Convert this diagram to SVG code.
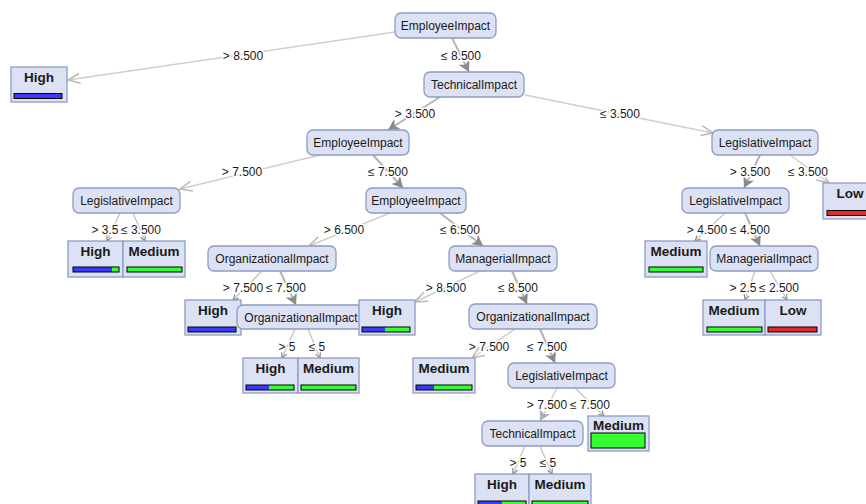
<svg xmlns="http://www.w3.org/2000/svg" width="866" height="504" viewBox="0 0 866 504">
<style>
.n rect{fill:#dce2f3;stroke:#8d9cc2;stroke-width:1.3}
.n text{font-family:"Liberation Sans",Arial,sans-serif;font-size:12px;fill:#1a1a1a;text-anchor:middle}
.l rect.b{fill:#dce2f3;stroke:#8d9cc2;stroke-width:1.3}
.l text{font-family:"Liberation Sans",Arial,sans-serif;font-size:13.5px;font-weight:bold;fill:#1a1a1a;text-anchor:middle}
.bar{stroke:#000;stroke-width:1}
.bl{fill:#3a3aff}.gr{fill:#33ff33}.rd{fill:#e8252b}
#edges line{stroke:#cfcfcf;stroke-width:1.5}
#edges line.h{stroke:#b4b4b4;stroke-width:2}
#edges line.s{stroke:#c4c4c4;stroke-width:1.3}
#edges text{font-family:"Liberation Sans",Arial,sans-serif;font-size:12px;fill:#1a1a1a;text-anchor:middle;stroke:#fff;stroke-width:3;paint-order:stroke;stroke-linejoin:round}
</style>
<defs>
<marker id="op" viewBox="0 0 14 12" refX="13" refY="6" markerWidth="14" markerHeight="12" markerUnits="userSpaceOnUse" orient="auto">
<path d="M1,1 L13,6 L1,11" fill="none" stroke="#b8b8b8" stroke-width="1.5"/>
</marker>
<marker id="fi" viewBox="0 0 12 12" refX="11" refY="6" markerWidth="12" markerHeight="12" markerUnits="userSpaceOnUse" orient="auto">
<path d="M0,0 L11,6 L0,12 L3,6 Z" fill="#8a8a8a"/>
</marker>
<marker id="lf" viewBox="0 0 12 12" refX="11" refY="6" markerWidth="12" markerHeight="12" markerUnits="userSpaceOnUse" orient="auto">
<path d="M0,0 L11,6 L0,12 L3,6 Z" fill="#b0b0b0"/>
</marker>
<marker id="sm" viewBox="0 0 8 8" refX="7" refY="4" markerWidth="7" markerHeight="7" markerUnits="userSpaceOnUse" orient="auto">
<path d="M1,1 L7,4 L1,7" fill="none" stroke="#8a8a8a" stroke-width="1.3"/>
</marker>
</defs>
<rect width="866" height="504" fill="#fff"/>
<g id="edges">
<line x1="395" y1="32" x2="68" y2="80" marker-end="url(#op)"/>
<line class="h" x1="452" y1="38" x2="469" y2="72" marker-end="url(#fi)"/>
<line class="h" x1="440" y1="97" x2="388" y2="130" marker-end="url(#fi)"/>
<line x1="525" y1="95" x2="713" y2="133" marker-end="url(#op)"/>
<line x1="320" y1="155" x2="180" y2="189" marker-end="url(#op)"/>
<line class="h" x1="373" y1="155" x2="403" y2="188" marker-end="url(#fi)"/>
<line class="h" x1="760" y1="155" x2="744" y2="188" marker-end="url(#fi)"/>
<line x1="790" y1="155" x2="829" y2="183" marker-end="url(#op)"/>
<line class="s" x1="120" y1="213" x2="107" y2="241" marker-end="url(#sm)"/>
<line class="s" x1="133" y1="213" x2="145" y2="241" marker-end="url(#sm)"/>
<line x1="390" y1="213" x2="309" y2="246" marker-end="url(#op)"/>
<line class="h" x1="440" y1="213" x2="483" y2="246" marker-end="url(#fi)"/>
<line class="s" x1="725" y1="213" x2="695" y2="241" marker-end="url(#sm)"/>
<line class="h" x1="745" y1="213" x2="760" y2="246" marker-end="url(#fi)"/>
<line class="s" x1="262" y1="271" x2="233" y2="300" marker-end="url(#sm)"/>
<line class="h" x1="280" y1="271" x2="296" y2="305" marker-end="url(#fi)"/>
<line x1="480" y1="271" x2="415" y2="302" marker-end="url(#op)"/>
<line class="h" x1="512" y1="271" x2="527" y2="304" marker-end="url(#fi)"/>
<line class="s" x1="755" y1="271" x2="745" y2="300" marker-end="url(#sm)"/>
<line class="s" x1="770" y1="271" x2="787" y2="300" marker-end="url(#sm)"/>
<line class="s" x1="295" y1="329" x2="282" y2="358" marker-end="url(#sm)"/>
<line class="s" x1="308" y1="329" x2="320" y2="358" marker-end="url(#sm)"/>
<line x1="515" y1="329" x2="472" y2="358" marker-end="url(#op)"/>
<line class="h" x1="540" y1="329" x2="555" y2="363" marker-end="url(#fi)"/>
<line x1="557" y1="388" x2="540" y2="421" marker-end="url(#lf)"/>
<line class="s" x1="575" y1="388" x2="604" y2="416" marker-end="url(#sm)"/>
<line class="s" x1="525" y1="446" x2="513" y2="474" marker-end="url(#sm)"/>
<line class="s" x1="540" y1="446" x2="552" y2="474" marker-end="url(#sm)"/>
<text x="243" y="60">&gt; 8.500</text>
<text x="461" y="60">≤ 8.500</text>
<text x="415" y="118">&gt; 3.500</text>
<text x="620" y="118">≤ 3.500</text>
<text x="242" y="176">&gt; 7.500</text>
<text x="388" y="176">≤ 7.500</text>
<text x="750" y="176">&gt; 3.500</text>
<text x="808" y="176">≤ 3.500</text>
<text x="105" y="234">&gt; 3.5</text>
<text x="141" y="234">≤ 3.500</text>
<text x="344" y="234">&gt; 6.500</text>
<text x="460" y="234">≤ 6.500</text>
<text x="707" y="234">&gt; 4.500</text>
<text x="750" y="234">≤ 4.500</text>
<text x="243" y="292">&gt; 7.500</text>
<text x="286" y="292">≤ 7.500</text>
<text x="446" y="292">&gt; 8.500</text>
<text x="518" y="292">≤ 8.500</text>
<text x="743" y="292">&gt; 2.5</text>
<text x="779" y="292">≤ 2.500</text>
<text x="287" y="351">&gt; 5</text>
<text x="317" y="351">≤ 5</text>
<text x="489" y="351">&gt; 7.500</text>
<text x="547" y="351">≤ 7.500</text>
<text x="547" y="409">&gt; 7.500</text>
<text x="590" y="409">≤ 7.500</text>
<text x="518" y="467">&gt; 5</text>
<text x="548" y="467">≤ 5</text>
</g>
<g id="n-root" class="n"><rect x="395" y="13" width="101" height="25" rx="6"/><text x="445.5" y="30">EmployeeImpact</text></g>
<g id="n-tech1" class="n"><rect x="424" y="72" width="100" height="25" rx="6"/><text x="474" y="89">TechnicalImpact</text></g>
<g id="n-emp2" class="n"><rect x="307" y="130" width="102" height="25" rx="6"/><text x="358" y="147">EmployeeImpact</text></g>
<g id="n-leg2" class="n"><rect x="712" y="130" width="106" height="25" rx="6"/><text x="765" y="147">LegislativeImpact</text></g>
<g id="n-leg3a" class="n"><rect x="73" y="188" width="107" height="25" rx="6"/><text x="126.5" y="205">LegislativeImpact</text></g>
<g id="n-emp3" class="n"><rect x="366" y="188" width="100" height="25" rx="6"/><text x="416" y="205">EmployeeImpact</text></g>
<g id="n-leg3b" class="n"><rect x="682" y="188" width="107" height="25" rx="6"/><text x="735.5" y="205">LegislativeImpact</text></g>
<g id="n-org4" class="n"><rect x="208" y="246" width="128" height="25" rx="6"/><text x="272" y="263">OrganizationalImpact</text></g>
<g id="n-man4" class="n"><rect x="449" y="246" width="108" height="25" rx="6"/><text x="503" y="263">ManagerialImpact</text></g>
<g id="n-man4b" class="n"><rect x="710" y="246" width="108" height="25" rx="6"/><text x="764" y="263">ManagerialImpact</text></g>
<g id="n-org5b" class="n"><rect x="469" y="304" width="128" height="25" rx="6"/><text x="533" y="321">OrganizationalImpact</text></g>
<g id="n-leg6" class="n"><rect x="508" y="363" width="107" height="25" rx="6"/><text x="561.5" y="380">LegislativeImpact</text></g>
<g id="n-tech7" class="n"><rect x="482" y="421" width="101" height="25" rx="6"/><text x="532.5" y="438">TechnicalImpact</text></g>

<g id="l-high1" class="l"><rect class="b" x="11" y="67" width="56" height="35"/><text x="39" y="82">High</text><rect class="bar bl" x="14" y="93.5" width="48" height="5"/></g>
<g id="l-low1" class="l"><rect class="b" x="823" y="183" width="60" height="36"/><text x="850" y="198">Low</text><rect class="bar rd" x="827" y="210.5" width="52" height="5"/></g>
<g id="l-high2" class="l"><rect class="b" x="68" y="241" width="55" height="36"/><text x="95.5" y="256">High</text><rect class="bl" x="73" y="267" width="39" height="5"/><rect class="gr" x="112" y="267" width="7" height="5"/><rect class="bar" fill="none" x="73" y="267" width="46" height="5"/></g>
<g id="l-med2" class="l"><rect class="b" x="123" y="241" width="62" height="36"/><text x="154" y="256">Medium</text><rect class="bar gr" x="127" y="267" width="55" height="5"/></g>
<g id="l-med3" class="l"><rect class="b" x="645" y="241" width="62" height="36"/><text x="676" y="256">Medium</text><rect class="bar gr" x="649" y="267" width="54" height="5"/></g>
<g id="l-high3" class="l"><rect class="b" x="185" y="300" width="56" height="35"/><text x="213" y="315">High</text><rect class="bar bl" x="188" y="327" width="48" height="5"/></g>
<g id="n-org5a" class="n"><rect x="237" y="305" width="128" height="24" rx="6"/><text x="301" y="321.5">OrganizationalImpact</text></g>
<g id="l-high4" class="l"><rect class="b" x="359" y="300" width="56" height="35"/><text x="387" y="315">High</text><rect class="bl" x="362" y="327" width="23" height="5"/><rect class="gr" x="385" y="327" width="25" height="5"/><rect class="bar" fill="none" x="362" y="327" width="48" height="5"/></g>
<g id="l-med4" class="l"><rect class="b" x="703" y="300" width="62" height="35"/><text x="734" y="315">Medium</text><rect class="bar gr" x="707" y="327" width="55" height="5"/></g>
<g id="l-low4" class="l"><rect class="b" x="765" y="300" width="56" height="35"/><text x="793" y="315">Low</text><rect class="bar rd" x="768" y="327" width="49" height="5"/></g>
<g id="l-high5" class="l"><rect class="b" x="243" y="358" width="55" height="35"/><text x="270.5" y="373">High</text><rect class="bl" x="246" y="385" width="23" height="5"/><rect class="gr" x="269" y="385" width="25" height="5"/><rect class="bar" fill="none" x="246" y="385" width="48" height="5"/></g>
<g id="l-med5" class="l"><rect class="b" x="298" y="358" width="61" height="35"/><text x="328.5" y="373">Medium</text><rect class="bar gr" x="301" y="385" width="55" height="5"/></g>
<g id="l-med5b" class="l"><rect class="b" x="413" y="358" width="62" height="35"/><text x="444" y="373">Medium</text><rect class="bl" x="416" y="385" width="18" height="5"/><rect class="gr" x="434" y="385" width="38" height="5"/><rect class="bar" fill="none" x="416" y="385" width="56" height="5"/></g>
<g id="l-med6" class="l"><rect class="b" x="588" y="416" width="61" height="35"/><text x="618.5" y="430">Medium</text><rect class="bar gr" x="591" y="433" width="54" height="15"/></g>
<g id="l-high7" class="l"><rect class="b" x="475" y="474" width="54" height="36"/><text x="502" y="489">High</text><rect class="bl" x="478" y="501" width="24" height="5"/><rect class="gr" x="502" y="501" width="24" height="5"/><rect class="bar" fill="none" x="478" y="501" width="48" height="5"/></g>
<g id="l-med7" class="l"><rect class="b" x="529" y="474" width="62" height="36"/><text x="560" y="489">Medium</text><rect class="bar gr" x="532" y="501" width="56" height="5"/></g>
</svg>
